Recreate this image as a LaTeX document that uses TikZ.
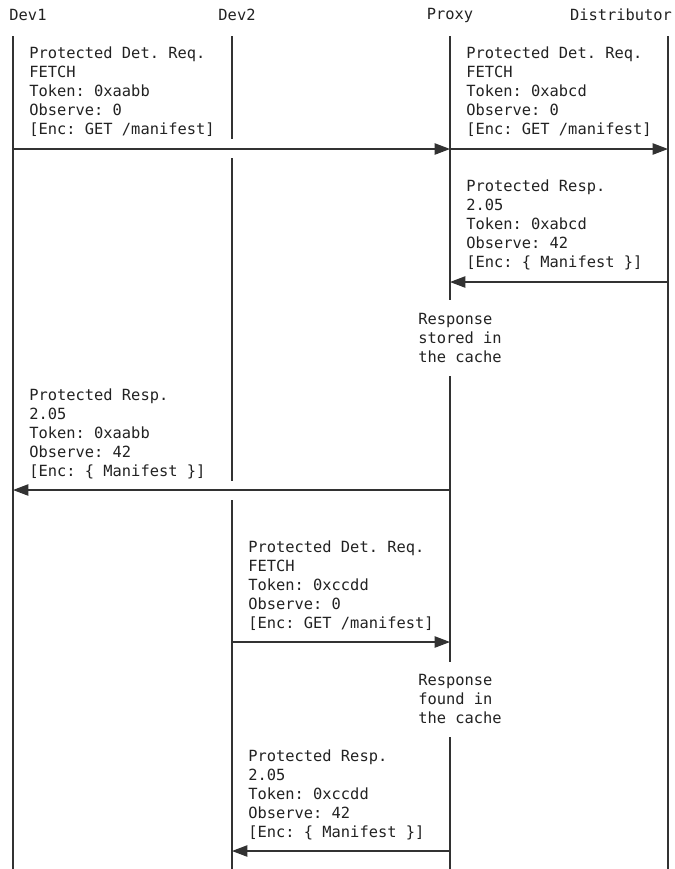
\documentclass[tikz,border=0pt]{standalone}
\usepackage{fontspec}
\setmonofont{DejaVu Sans Mono}
\usetikzlibrary{arrows.meta}
\definecolor{txt}{RGB}{34,34,34}
\definecolor{ln}{RGB}{50,50,50}
\begin{document}
\begin{tikzpicture}[x=0.75pt,y=-0.75pt,
  lbl/.style={font=\ttfamily\fontsize{11.55pt}{14.25pt}\selectfont, text=txt, align=left, inner sep=0pt, anchor=north west},
  hdr/.style={font=\ttfamily\fontsize{11.55pt}{14.25pt}\selectfont, text=txt, inner sep=0pt},
  life/.style={draw=ln, line width=0.9pt},
  msg/.style={draw=ln, line width=0.9pt, -{Triangle[length=11.5pt,width=8.5pt]}}]
\fill[white] (0,0) rectangle (675,869);
\useasboundingbox (0,0) rectangle (675,869);

% headers
\node[hdr] (h1) at (28,15) {Dev1};
\node[hdr] (h2) at (237,15) {Dev2};
\node[hdr] (h3) at (450,15) {Proxy};
\node[hdr] (h4) at (621,15) {Distributor};

% lifeline coordinates
\coordinate (d1t) at (13,36);  \coordinate (d1b) at (13,869);
\coordinate (d2t) at (232,36); \coordinate (d2a) at (232,139);
\coordinate (d2b) at (232,158); \coordinate (d2c) at (232,481);
\coordinate (d2d) at (232,500); \coordinate (d2e) at (232,869);
\coordinate (pt) at (450,36);  \coordinate (pa) at (450,300);
\coordinate (pb) at (450,376); \coordinate (pc) at (450,662);
\coordinate (pd) at (450,737); \coordinate (pe) at (450,869);
\coordinate (dst) at (668,36); \coordinate (dsb) at (668,869);

\draw[life] (d1t) -- (d1b);
\draw[life] (d2t) -- (d2a);
\draw[life] (d2b) -- (d2c);
\draw[life] (d2d) -- (d2e);
\draw[life] (pt) -- (pa);
\draw[life] (pb) -- (pc);
\draw[life] (pd) -- (pe);
\draw[life] (dst) -- (dsb);

% message end points
\coordinate (m1s) at (13,149);  \coordinate (m1e) at (450,149);
\coordinate (m2s) at (450,149); \coordinate (m2e) at (668,149);
\coordinate (m3s) at (668,282); \coordinate (m3e) at (450,282);
\coordinate (m4s) at (450,490); \coordinate (m4e) at (13,490);
\coordinate (m5s) at (232,642); \coordinate (m5e) at (450,642);
\coordinate (m6s) at (450,851); \coordinate (m6e) at (232,851);

\draw[msg] (m1s) -- (m1e);
\draw[msg] (m2s) -- (m2e);
\draw[msg] (m3s) -- (m3e);
\draw[msg] (m4s) -- (m4e);
\draw[msg] (m5s) -- (m5e);
\draw[msg] (m6s) -- (m6e);

% labels
\node[lbl] (la) at (29,47) {Protected Det. Req.\\FETCH\\Token: 0xaabb\\Observe: 0\\{[}Enc: GET /manifest{]}};
\node[lbl] (lb) at (466,47) {Protected Det. Req.\\FETCH\\Token: 0xabcd\\Observe: 0\\{[}Enc: GET /manifest{]}};
\node[lbl] (lc) at (466,180) {Protected Resp.\\2.05\\Token: 0xabcd\\Observe: 42\\{[}Enc: \{ Manifest \}{]}};
\node[lbl] (ld) at (418,313) {Response\\stored in\\the cache};
\node[lbl] (le) at (29,389) {Protected Resp.\\2.05\\Token: 0xaabb\\Observe: 42\\{[}Enc: \{ Manifest \}{]}};
\node[lbl] (lf) at (248,541) {Protected Det. Req.\\FETCH\\Token: 0xccdd\\Observe: 0\\{[}Enc: GET /manifest{]}};
\node[lbl] (lg) at (418,674) {Response\\found in\\the cache};
\node[lbl] (lh) at (248,750) {Protected Resp.\\2.05\\Token: 0xccdd\\Observe: 42\\{[}Enc: \{ Manifest \}{]}};
\end{tikzpicture}
\end{document}
